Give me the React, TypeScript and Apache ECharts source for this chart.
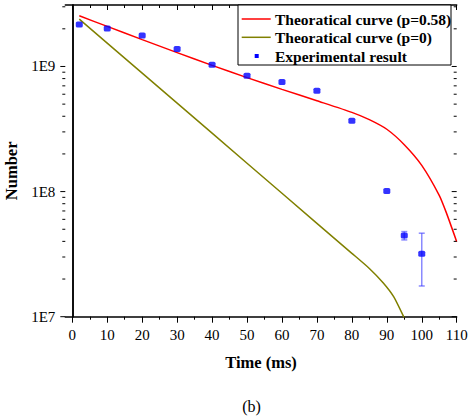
import React, { useEffect, useRef } from "react";
import * as echarts from "echarts";

// ---- data ----
const X_MIN = -2;
const X_MAX = 110;
const Y_MIN = 1e7;
const Y_MAX = 3.1e9;

const expTime = [2, 10, 20, 30, 40, 50, 60, 70, 80, 90, 95, 100];
const expNumber = [2.17e9, 2.01e9, 1.77e9, 1.38e9, 1.03e9, 8.43e8, 7.5e8, 6.4e8, 3.68e8, 1.01e8, 4.45e7, 3.18e7];

const errTime = [95, 100];
const errLow = [4.11e7, 1.76e7];
const errHigh = [4.79e7, 4.65e7];

const curve58Time = [2, 10, 20, 30, 40, 50, 60, 70, 80, 85, 90, 95, 100, 105, 107, 110];
const curve58Number = [2.54e9, 2.09e9, 1.64e9, 1.29e9, 1.02e9, 8.15e8, 6.56e8, 5.32e8, 4.3e8, 3.76e8, 3.15e8, 2.37e8, 1.62e8, 9.34e7, 6.82e7, 3.98e7];

const curve0Time = [2, 20, 40, 60, 80, 85, 89, 92, 95, 96];
const curve0Number = [2.39e9, 8.84e8, 2.93e8, 9.69e7, 3.21e7, 2.43e7, 1.86e7, 1.44e7, 9.76e6, 8.42e6];

const yMajorTicks = [1e7, 1e8, 1e9];
const yMinorTicks = [
  2e7, 3e7, 4e7, 5e7, 6e7, 7e7, 8e7, 9e7,
  2e8, 3e8, 4e8, 5e8, 6e8, 7e8, 8e8, 9e8,
  2e9, 3e9,
];

const legendLabels = ["Theoratical curve (p=0.58)", "Theoratical curve (p=0)", "Experimental result"];
const caption = "(b)";

const FONT = "'Times New Roman', 'Liberation Serif', serif";
const RED = "#ff0000";
const OLIVE = "#808000";
const BLUE = "#0000ff";

export default function App() {
  const ref = useRef<HTMLDivElement>(null);

  useEffect(() => {
    if (!ref.current) return;
    const chart = echarts.init(ref.current, undefined, { renderer: "svg" });

    const gridA = { left: 65.3, right: 11.3, top: 5, bottom: 103.3, containLabel: false, outerBoundsMode: "none" };
    const gridB = { left: 72.29, right: 11.3, top: 5, bottom: 103.3, containLabel: false, outerBoundsMode: "none" };

    const axisLine = { show: true, lineStyle: { color: "#000", width: 1.5 } };

    const tickData = [
      ...yMajorTicks.map((v) => [X_MIN, v, 1]),
      ...yMinorTicks.map((v) => [X_MIN, v, 0]),
    ];

    const option: any = {
      animation: false,
      backgroundColor: "#fff",
      textStyle: { fontFamily: FONT },
      grid: [gridA, gridB],
      xAxis: [
        {
          gridIndex: 0, type: "value", position: "bottom", min: X_MIN, max: X_MAX,
          axisLine, axisTick: { show: false }, axisLabel: { show: false }, splitLine: { show: false },
          name: "Time (ms)", nameLocation: "middle", nameGap: 37,
          nameTextStyle: { fontFamily: FONT, fontWeight: "bold", fontSize: 16.5, color: "#000" },
        },
        {
          gridIndex: 0, type: "value", position: "top", min: X_MIN, max: X_MAX,
          axisLine, axisTick: { show: false }, axisLabel: { show: false }, splitLine: { show: false },
        },
        {
          gridIndex: 1, type: "value", position: "bottom", min: 0, max: 110, interval: 10,
          axisLine: { show: false },
          axisTick: { show: true, inside: false, length: 6, lineStyle: { color: "#000", width: 1 } },
          minorTick: { show: true, splitNumber: 2, length: 3, lineStyle: { color: "#000", width: 1 } },
          axisLabel: { show: true, margin: 11, color: "#000", fontFamily: FONT, fontSize: 15 },
          splitLine: { show: false },
        },
        {
          gridIndex: 1, type: "value", position: "top", min: 0, max: 110, interval: 10,
          axisLine: { show: false },
          axisTick: { show: true, inside: true, length: 5, lineStyle: { color: "#000", width: 1 } },
          minorTick: { show: true, splitNumber: 2, length: 3, lineStyle: { color: "#000", width: 1 } },
          axisLabel: { show: false },
          splitLine: { show: false },
        },
      ],
      yAxis: [
        {
          gridIndex: 0, type: "log", position: "left", min: Y_MIN, max: Y_MAX,
          axisLine, axisTick: { show: false }, splitLine: { show: false },
          axisLabel: {
            show: true, margin: 10, color: "#000", fontFamily: FONT, fontSize: 15,
            formatter: (v: number) => {
              const e = Math.log10(v);
              const r = Math.round(e);
              return Math.abs(e - r) < 1e-6 ? "1E" + r : "";
            },
          },
          name: "Number", nameLocation: "middle", nameGap: 43, nameRotate: 90,
          nameTextStyle: { fontFamily: FONT, fontWeight: "bold", fontSize: 16.5, color: "#000", padding: [0, 20, 0, 0] },
        },
        {
          gridIndex: 0, type: "log", position: "right", min: Y_MIN, max: Y_MAX,
          axisLine, axisTick: { show: false }, axisLabel: { show: false }, splitLine: { show: false },
        },
        {
          gridIndex: 1, type: "value", min: 0, max: 1, show: false,
        },
      ],
      series: [
        {
          name: legendLabels[0], type: "line", xAxisIndex: 0, yAxisIndex: 0,
          data: curve58Time.map((t, i) => [t, curve58Number[i]]),
          showSymbol: false, smooth: 0.2,
          lineStyle: { color: RED, width: 1.5 }, itemStyle: { color: RED }, z: 3,
        },
        {
          name: legendLabels[1], type: "line", xAxisIndex: 0, yAxisIndex: 0,
          data: curve0Time.map((t, i) => [t, curve0Number[i]]),
          showSymbol: false, smooth: 0.2,
          lineStyle: { color: OLIVE, width: 1.5 }, itemStyle: { color: OLIVE }, z: 3,
        },
        {
          name: "error", type: "custom", xAxisIndex: 0, yAxisIndex: 0, silent: true, z: 4,
          data: errTime.map((t, i) => [t, errLow[i], errHigh[i]]),
          encode: { x: 0, y: [1, 2] },
          renderItem: (params: any, api: any) => {
            const x = api.value(0);
            const lo = api.coord([x, api.value(1)]);
            const hi = api.coord([x, api.value(2)]);
            const w = 3;
            const style = { stroke: "rgba(60,60,255,0.6)", lineWidth: 1.5 };
            return {
              type: "group",
              children: [
                { type: "line", shape: { x1: lo[0], y1: lo[1], x2: hi[0], y2: hi[1] }, style },
                { type: "line", shape: { x1: lo[0] - w, y1: lo[1], x2: lo[0] + w, y2: lo[1] }, style },
                { type: "line", shape: { x1: hi[0] - w, y1: hi[1], x2: hi[0] + w, y2: hi[1] }, style },
              ],
            };
          },
        },
        {
          name: legendLabels[2], type: "scatter", xAxisIndex: 0, yAxisIndex: 0,
          data: expTime.map((t, i) => [t, expNumber[i]]),
          symbol: "roundRect", symbolSize: [7, 6], itemStyle: { color: BLUE }, z: 5,
        },
        {
          name: "yticks", type: "custom", xAxisIndex: 0, yAxisIndex: 0, silent: true, clip: false, z: 6,
          data: tickData,
          encode: { x: 0, y: 1 },
          renderItem: (params: any, api: any) => {
            const v = api.value(1);
            const major = api.value(2) === 1;
            const len = major ? 5 : 3;
            const l = api.coord([X_MIN, v]);
            const r = api.coord([X_MAX, v]);
            const style = { stroke: "#000", lineWidth: 1 };
            return {
              type: "group",
              children: [
                { type: "line", shape: { x1: l[0] - len, y1: l[1], x2: l[0], y2: l[1] }, style },
                { type: "line", shape: { x1: r[0] - len, y1: r[1], x2: r[0], y2: r[1] }, style },
              ],
            };
          },
        },
      ],
      graphic: [
        { type: "rect", z: 100, shape: { x: 238, y: 5, width: 213, height: 60 }, style: { fill: "#fff", stroke: "#000", lineWidth: 1 } },
        { type: "line", z: 101, shape: { x1: 241.7, y1: 19, x2: 270.7, y2: 19 }, style: { stroke: RED, lineWidth: 1.5 } },
        { type: "line", z: 101, shape: { x1: 241.7, y1: 37.3, x2: 270.7, y2: 37.3 }, style: { stroke: OLIVE, lineWidth: 1.5 } },
        { type: "rect", z: 101, shape: { x: 254.7, y: 54, width: 4, height: 4 }, style: { fill: BLUE } },
        { type: "text", z: 101, x: 275, y: 19, style: { text: legendLabels[0], font: `bold 15.5px ${FONT}`, fill: "#000", verticalAlign: "middle" } },
        { type: "text", z: 101, x: 275, y: 37.3, style: { text: legendLabels[1], font: `bold 15.5px ${FONT}`, fill: "#000", verticalAlign: "middle" } },
        { type: "text", z: 101, x: 275, y: 56, style: { text: legendLabels[2], font: `bold 15.5px ${FONT}`, fill: "#000", verticalAlign: "middle" } },
        { type: "text", z: 101, x: 251.5, y: 406, style: { text: caption, font: `16px ${FONT}`, fill: "#000", align: "center", verticalAlign: "middle" } },
      ],
    };

    chart.setOption(option);
    return () => chart.dispose();
  }, []);

  return (
    <div
      ref={ref}
      style={{ position: "fixed", left: 0, top: 0, width: 468, height: 420, background: "#fff" }}
    />
  );
}
